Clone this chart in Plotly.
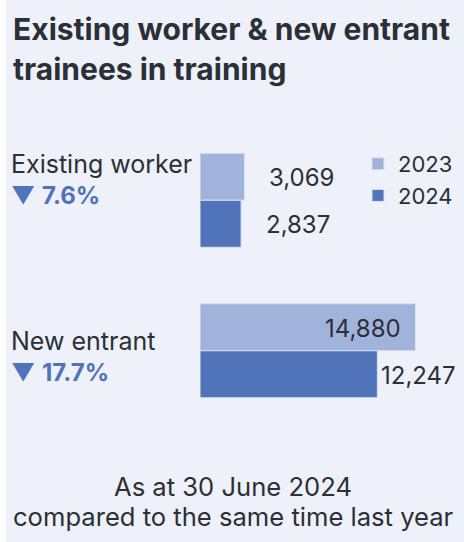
import plotly.graph_objects as go

categories = ["Existing worker", "New entrant"]
years = ["2023", "2024"]
values_2023 = [3069, 14880]
values_2024 = [2837, 12247]
pct_change = [-7.6, -17.7]
title_lines = ["Existing worker & new entrant", "trainees in training"]
footer_lines = ["As at 30 June 2024", "compared to the same time last year"]

W, H = 464, 542
ML, MR, MT, MB = 200, 4, 125, 116
PW = W - ML - MR
PH = H - MT - MB
XMAX = PW * 69.05

BG = "#EEF1F9"
DARK = "#2B2F37"
C2023 = "#A1B3DA"
C2024 = "#5073BA"
FONT = "Inter"


def py(y):
    return (H - MB - y) / PH


fig = go.Figure()
series = [values_2023, values_2024]
colors = [C2023, C2024]
for name, vals, col in zip(years, series, colors):
    fig.add_trace(go.Bar(
        y=categories, x=vals, name=name, orientation="h",
        marker=dict(color=col, line=dict(color="#DCE3F2", width=1)),
        hoverinfo="skip",
    ))

ann = []
# value labels
bar_off = PH / 2 * (1 - 0.375) / 4
for j, vals in enumerate(series):
    ysh = bar_off if j == 0 else -bar_off
    for i, v in enumerate(vals):
        wpx = v / XMAX * PW
        if wpx > 200:
            xa, xs = "right", -13
        elif wpx > 100:
            xa, xs = "left", 2
        else:
            xa, xs = "left", 23
        ann.append(dict(x=v, y=categories[i], xref="x", yref="y", text=f"{v:,}",
                        showarrow=False, xanchor=xa, xshift=xs, yshift=ysh - 1,
                        font=dict(family=FONT, size=24, color=DARK)))

# category labels + change
name_shift = [36.5, 10]
pct_shift = [4.5, -21.5]
for i, c in enumerate(categories):
    ann.append(dict(x=0, y=c, xref="paper", yref="y", xanchor="left", xshift=-191,
                    yshift=name_shift[i], text=c, showarrow=False,
                    font=dict(family=FONT, size=25, color=DARK)))
    p = pct_change[i]
    arrow = "▼" if p < 0 else "▲"
    ann.append(dict(x=0, y=c, xref="paper", yref="y", xanchor="left", xshift=-191,
                    yshift=pct_shift[i],
                    text=f"<span style='color:{C2024}'>{arrow} <b>{abs(p):.1f}%</b></span>",
                    showarrow=False, font=dict(family=FONT, size=24, color=C2024)))

# title
for k, (t, yc) in enumerate(zip(title_lines, [29.5, 69.5])):
    ann.append(dict(x=0, y=py(yc), xref="paper", yref="paper", xanchor="left",
                    yanchor="middle", xshift=-189, text=f"<b>{t}</b>", showarrow=False,
                    font=dict(family=FONT, size=30, color=DARK)))
# footer
for t, yc in zip(footer_lines, [486, 516.5]):
    ann.append(dict(x=(233 - ML) / PW, y=py(yc), xref="paper", yref="paper",
                    xanchor="center", yanchor="middle", text=t, showarrow=False,
                    font=dict(family=FONT, size=25.6, color=DARK)))

fig.update_layout(
    width=W, height=H,
    margin=dict(l=ML, r=MR, t=MT, b=MB, pad=0),
    paper_bgcolor="white", plot_bgcolor="rgba(0,0,0,0)",
    barmode="group", bargap=0.375, bargroupgap=0,
    xaxis=dict(range=[0, XMAX], visible=False, fixedrange=True),
    yaxis=dict(categoryorder="array", categoryarray=categories, autorange="reversed",
               visible=False, fixedrange=True),
    showlegend=True,
    legend=dict(x=(358 - ML) / PW, y=py(143), xanchor="left", yanchor="top",
                traceorder="normal", bgcolor="rgba(0,0,0,0)", itemwidth=30,
                font=dict(family=FONT, size=22, color=DARK)),
    annotations=ann,
    shapes=[dict(type="rect", xref="paper", yref="paper", layer="below",
                 x0=(6 - ML) / PW, x1=(W - ML) / PW, y0=py(H), y1=py(0),
                 fillcolor=BG, line=dict(width=0))],
    hovermode=False,
)
fig.write_html("out.html", config={"displayModeBar": False},
               post_script="document.body.style.margin='0px';")
